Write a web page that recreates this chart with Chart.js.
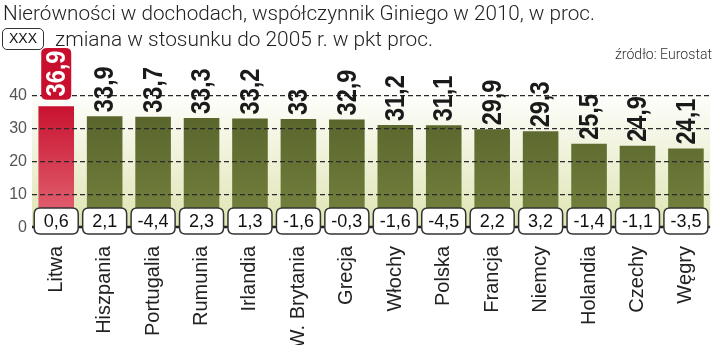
<!DOCTYPE html>
<html>
<head>
<meta charset="utf-8">
<script src="https://cdn.jsdelivr.net/npm/chart.js@4/dist/chart.umd.min.js"></script>
<style>
  body { margin: 0; background: #fff; }
  #wrap { position: relative; width: 720px; height: 345px; overflow: hidden; }
  #wrap canvas { position: absolute; left: 0; top: 0; }
  .txt { position: absolute; white-space: nowrap; font-family: Roboto, "Liberation Sans", sans-serif; font-weight: 300; color: #222; transform-origin: 0 0; line-height: 1; }
  #t1 { left: 3px; top: 3px; font-size: 21px; }
  #t2 { left: 55px; top: 29px; font-size: 20px; }
  #src { left: 615px; top: 47px; font-size: 15px; color: #333; }
  #key { position: absolute; left: 2px; top: 28px; width: 42px; height: 22px; border: 1.5px solid #333; border-radius: 5px;
         box-sizing: border-box; font: 14px "Liberation Sans", sans-serif; text-align: center; line-height: 19px; color: #111; }
</style>
</head>
<body>
<div id="wrap">
  <canvas id="giniChart" width="720" height="345"></canvas>
  <div class="txt" id="t1" data-w="592">Nierówności w dochodach, współczynnik Giniego w 2010, w proc.</div>
  <div id="key">XXX</div>
  <div class="txt" id="t2" data-w="378">zmiana w stosunku do 2005 r. w pkt proc.</div>
  <div class="txt" id="src" data-w="97">źródło: Eurostat</div>
</div>
<script>
const countries = ['Litwa', 'Hiszpania', 'Portugalia', 'Rumunia', 'Irlandia', 'W. Brytania', 'Grecja',
                   'Włochy', 'Polska', 'Francja', 'Niemcy', 'Holandia', 'Czechy', 'Węgry'];
const gini2010 = [36.9, 33.9, 33.7, 33.3, 33.2, 33, 32.9, 31.2, 31.1, 29.9, 29.3, 25.5, 24.9, 24.1];
const change2005 = [0.6, 2.1, -4.4, 2.3, 1.3, -1.6, -0.3, -1.6, -4.5, 2.2, 3.2, -1.4, -1.1, -3.5];
const yTicks = [0, 10, 20, 30, 40];

// squeeze the header texts to the narrow look of the original
document.querySelectorAll('.txt').forEach(function (el) {
    const w = el.getBoundingClientRect().width;
    el.style.transform = 'scaleX(' + (parseFloat(el.dataset.w) / w) + ')';
});

function fmt(v) {
    return String(v).replace('.', ',');
}

function roundRect(ctx, x, y, w, h, r) {
    ctx.beginPath();
    ctx.moveTo(x + r, y);
    ctx.lineTo(x + w - r, y);
    ctx.quadraticCurveTo(x + w, y, x + w, y + r);
    ctx.lineTo(x + w, y + h - r);
    ctx.quadraticCurveTo(x + w, y + h, x + w - r, y + h);
    ctx.lineTo(x + r, y + h);
    ctx.quadraticCurveTo(x, y + h, x, y + h - r);
    ctx.lineTo(x, y + r);
    ctx.quadraticCurveTo(x, y, x + r, y);
    ctx.closePath();
}

const plotBackground = {
    id: 'plotBackground',
    beforeDatasetsDraw(chart) {
        const { ctx, chartArea: a } = chart;
        const g = ctx.createLinearGradient(0, a.top + 25, 0, a.bottom);
        g.addColorStop(0, '#ffffff');
        g.addColorStop(1, '#dfe4b2');
        ctx.save();
        ctx.fillStyle = g;
        ctx.fillRect(a.left, a.top, a.right - a.left, a.bottom - a.top);
        ctx.restore();
    }
};

const valueLabels = {
    id: 'valueLabels',
    afterDraw(chart) {
        const ctx = chart.ctx;
        const meta = chart.getDatasetMeta(0);
        meta.data.forEach(function (bar, i) {
            const text = fmt(gini2010[i]);
            ctx.save();
            ctx.translate(bar.x, bar.y - (i === 0 ? 9 : 4));
            ctx.rotate(-Math.PI / 2);
            ctx.scale(0.84, 1);
            ctx.font = 'bold 28px "Liberation Sans", Arial, sans-serif';
            ctx.textAlign = 'left';
            ctx.textBaseline = 'middle';
            if (i === 0) {
                const w = ctx.measureText(text).width;
                ctx.fillStyle = '#c8102e';
                roundRect(ctx, -3, -15, w + 6 / 0.84, 30, 6);
                ctx.fill();
                ctx.fillStyle = '#ffffff';
                ctx.fillText(text, 1, 1);
            } else {
                ctx.fillStyle = '#1a1a1a';
                ctx.fillText(text, 0, 1);
            }
            ctx.restore();
        });
    }
};

const changeBoxes = {
    id: 'changeBoxes',
    afterDraw(chart) {
        const { ctx, chartArea: a } = chart;
        const y0 = chart.scales.y.getPixelForValue(0);
        ctx.save();
        ctx.strokeStyle = '#222';
        ctx.lineWidth = 2.5;
        ctx.beginPath();
        ctx.moveTo(a.left, y0 - 1);
        ctx.lineTo(a.right, y0 - 1);
        ctx.stroke();

        const meta = chart.getDatasetMeta(0);
        meta.data.forEach(function (bar, i) {
            roundRect(ctx, bar.x - 22, y0 - 20, 44, 26, 6);
            ctx.fillStyle = '#ffffff';
            ctx.fill();
            ctx.lineWidth = 1.5;
            ctx.strokeStyle = '#333';
            ctx.stroke();
            ctx.fillStyle = '#111';
            ctx.font = '18px "Liberation Sans", Arial, sans-serif';
            ctx.textAlign = 'center';
            ctx.textBaseline = 'middle';
            ctx.fillText(fmt(change2005[i]), bar.x, y0 - 6);
        });
        ctx.restore();
    }
};

function barColor(context) {
    const chart = context.chart;
    const a = chart.chartArea;
    if (!a) return '#5f6b2c';
    const g = chart.ctx.createLinearGradient(0, a.top + 40, 0, a.bottom);
    if (context.dataIndex === 0) {
        g.addColorStop(0, '#c8102e');
        g.addColorStop(1, '#e36a78');
    } else {
        g.addColorStop(0, '#56622a');
        g.addColorStop(1, '#76833f');
    }
    return g;
}

const ctx = document.getElementById('giniChart').getContext('2d');

new Chart(ctx, {
    type: 'bar',
    data: {
        labels: countries,
        datasets: [{
            label: 'Współczynnik Giniego 2010',
            data: gini2010,
            backgroundColor: barColor,
            borderWidth: 0,
            barPercentage: 0.735,
            categoryPercentage: 1
        }]
    },
    options: {
        responsive: false,
        animation: false,
        layout: { padding: { top: 63, right: 2, left: 0, bottom: 0 } },
        plugins: { legend: { display: false }, tooltip: { enabled: false } },
        scales: {
            x: {
                grid: { display: false },
                border: { display: false },
                afterFit(scale) { scale.height = 117; },
                ticks: {
                    autoSkip: false,
                    minRotation: 90,
                    maxRotation: 90,
                    padding: 10,
                    color: '#222',
                    font: { family: '"Liberation Sans", Arial, sans-serif', size: 20 }
                }
            },
            y: {
                min: 0,
                max: 50,
                afterFit(scale) { scale.width = 32; },
                afterBuildTicks(scale) {
                    scale.ticks = yTicks.concat([50]).map(function (v) { return { value: v }; });
                },
                border: { display: false, dash: [5, 3] },
                grid: {
                    z: 1,
                    drawTicks: false,
                    color: function (c) {
                        return (c.tick && c.tick.value > 0 && c.tick.value < 50) ? '#2a2a2a' : 'rgba(0,0,0,0)';
                    },
                    lineWidth: 1.3
                },
                ticks: {
                    padding: 5,
                    color: '#555',
                    font: { family: '"Liberation Sans", Arial, sans-serif', size: 16 },
                    callback: function (v) { return yTicks.indexOf(v) >= 0 ? v : ''; }
                }
            }
        }
    },
    plugins: [plotBackground, valueLabels, changeBoxes]
});
</script>
</body>
</html>
